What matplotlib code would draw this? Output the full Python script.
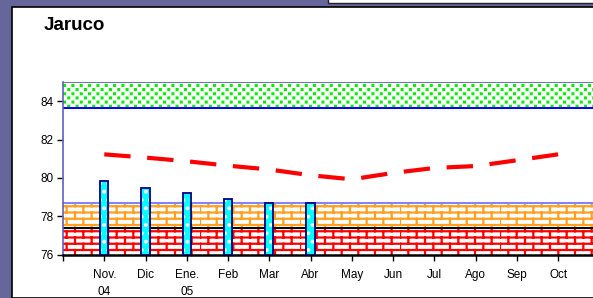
import warnings
import numpy as np
import matplotlib
matplotlib.use("Agg")
import matplotlib.pyplot as plt
import matplotlib.hatch as mhatch
from matplotlib.path import Path
from matplotlib.patches import Rectangle

warnings.filterwarnings("ignore")

# data
months = ["Nov.\n04", "Dic", "Ene.\n05", "Feb", "Mar", "Abr",
          "May", "Jun", "Jul", "Ago", "Sep", "Oct"]
bar_values = [79.83, 79.49, 79.22, 78.88, 78.70, 78.70]
line_values = [81.23, 81.06, 80.87, 80.64, 80.44, 80.14,
               79.93, 80.26, 80.52, 80.62, 80.92, 81.23]
band_low = (76.0, 77.37)
band_mid = (77.37, 78.70)
band_high = (83.67, 85.0)
y_ticks = [76, 78, 80, 82, 84]


class BrickHatch(mhatch.HatchPatternBase):
    """Brick wall hatch, triggered by the letter 'b'."""
    def __init__(self, hatch, density):
        self.rows = 16 if "b" in hatch else 0
        self.cols = 6
        self.num_vertices = self.rows * 2 + self.rows * self.cols * 2

    def set_vertices_and_codes(self, vertices, codes):
        k = 0
        n, m = self.rows, self.cols
        for i in range(n):
            y0, y1 = i / n, (i + 1) / n
            vertices[k] = (0, y0)
            vertices[k + 1] = (1, y0)
            codes[k], codes[k + 1] = Path.MOVETO, Path.LINETO
            k += 2
            for j in range(m):
                x = (j + 0.5 * (i % 2)) / m
                vertices[k] = (x, y0)
                vertices[k + 1] = (x, y1)
                codes[k], codes[k + 1] = Path.MOVETO, Path.LINETO
                k += 2


class SquareDotHatch(mhatch.HatchPatternBase):
    """Staggered small squares, triggered by the letter 'q'."""
    def __init__(self, hatch, density):
        self.rows = 24 if "q" in hatch else 0
        self.cols = 12
        self.num_vertices = self.rows * self.cols * 5

    def set_vertices_and_codes(self, vertices, codes):
        s = 0.004
        k = 0
        for i in range(self.rows):
            y = (i + 0.5) / self.rows
            for j in range(self.cols):
                x = (j + 0.25 + 0.5 * (i % 2)) / self.cols
                vertices[k:k + 5] = [(x - s, y - s), (x + s, y - s),
                                     (x + s, y + s), (x - s, y + s), (x - s, y - s)]
                codes[k:k + 5] = [Path.MOVETO, Path.LINETO, Path.LINETO,
                                  Path.LINETO, Path.CLOSEPOLY]
                k += 5


mhatch._hatch_types.append(BrickHatch)
mhatch._hatch_types.append(SquareDotHatch)

plt.rcParams["font.family"] = ["Liberation Sans", "DejaVu Sans"]
plt.rcParams["hatch.linewidth"] = 1.6

W, H = 593, 298
fig = plt.figure(figsize=(W / 100, H / 100), dpi=100)
fig.patch.set_facecolor("#66669a")

# white panel with black border, and the strip of another panel at the top right
fig.add_artist(Rectangle((12 / W, 0), 1, 1 - 7 / H, transform=fig.transFigure,
                         facecolor="white", edgecolor="black", lw=1.2, zorder=-2))
fig.add_artist(Rectangle((328 / W, 1 - 3 / H), 1, 0.05, transform=fig.transFigure,
                         facecolor="white", edgecolor="#222222", lw=1.0, zorder=-2))

ax = fig.add_axes([63 / W, 43.3 / H, 557 / W, 172.7 / H])
ax.set_facecolor("white")
x = np.arange(len(months))

# background bands
ax.axhspan(*band_low, facecolor="white", edgecolor="#ff0000", hatch="b", lw=0, zorder=1)
ax.axhspan(*band_mid, facecolor="white", edgecolor="#ffa020", hatch="b", lw=0, zorder=1)
ax.axhspan(*band_high, facecolor="white", edgecolor="#00ee00", hatch="q", lw=0, zorder=1)
ax.axhline(band_low[1], color="black", lw=1.4, zorder=2)
ax.axhline(band_mid[1], color="#8080ff", lw=1.4, zorder=2)
ax.axhline(band_high[0], color="#0000ff", lw=1.4, zorder=2)
ax.axhline(band_high[1], color="#7070b0", lw=1.4, zorder=2)

# bars
bx = x[:len(bar_values)]
bh = [v - 76 for v in bar_values]
ax.bar(bx, bh, width=0.2, bottom=76, color="#00ffff", edgecolor="white",
       hatch="..", lw=0, zorder=3)
ax.bar(bx, bh, width=0.2, bottom=76, fill=False, edgecolor="#000080",
       lw=1.3, zorder=3.5)

# dashed line
lw = 3.0
ax.plot(x, line_values, color="#ff0000", lw=lw, dashes=(19 / lw, 12 / lw),
        solid_capstyle="butt", dash_capstyle="butt", zorder=4)

ax.set_xlim(-1, 12.5)
ax.set_ylim(76, 85)
ax.set_xticks(np.arange(-1, 12))
ax.set_xticklabels([""] + months, fontsize=8.5, linespacing=1.55)
ax.set_yticks(y_ticks)
ax.set_yticklabels([str(v) for v in y_ticks], fontsize=8.5)
ax.tick_params(axis="x", length=4, width=1, pad=6)
ax.tick_params(axis="y", length=4, width=1, pad=3)

ax.spines["top"].set_visible(False)
ax.spines["right"].set_visible(False)
ax.spines["left"].set_color("#6060c0")
ax.spines["left"].set_linewidth(1.2)
ax.spines["bottom"].set_color("black")
ax.spines["bottom"].set_linewidth(1.8)

fig.text(44 / W, 1 - 30 / H, "Jaruco", fontsize=13.5, fontweight="bold",
         va="baseline", ha="left")

fig.savefig("out.png", dpi=100)
